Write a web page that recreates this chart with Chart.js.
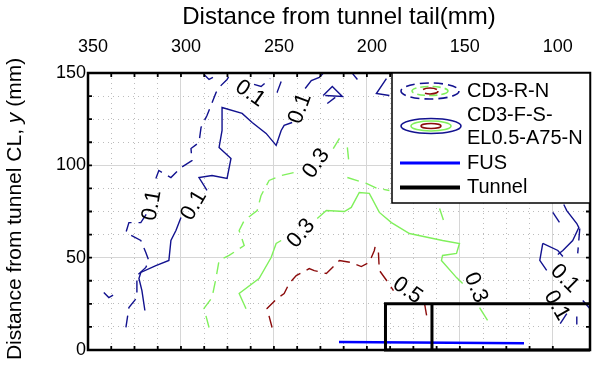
<!DOCTYPE html>
<html>
<head>
  <meta charset="utf-8">
  <title>Contours near tunnel tail</title>
  <style>
    html, body { margin: 0; padding: 0; background: #fff; }
    #wrap { width: 593px; height: 371px; }
  </style>
</head>
<body>
  <div id="wrap"><canvas id="chart" width="593" height="371"></canvas></div>

  <script src="https://cdn.jsdelivr.net/npm/chart.js"></script>
  <script>
    // axis ranges and labelled ticks (mm)
    const xMin = 80, xMax = 350;
    const yMin = 0, yMax = 150;
    const xTickValues = [350, 300, 250, 200, 150, 100];
    const yTickValues = [0, 50, 100, 150];

    // CD3-R-N contour pieces (dashed), [x, y] in mm
    const rnLevel01 = [
      [[329.6,12.2],[328.0,23.0],[323.7,28.4],[323.7,40.3],[318.9,44.7],[317.3,48.5],[318.9,52.8],[321.6,59.3],[329.6,63.6],[328.0,69.0],[321.6,69.0],[317.3,75.5]],
      [[313.5,92.9],[311.9,97.2],[305.4,93.4],[300.0,98.8],[294.1,102.6],[294.6,109.1],[290.3,112.4],[289.2,120.5],[286.0,127.0],[281.1,139.5],[278.4,143.3],[275.2,146.5],[273.6,149.2]],
      [[341.5,31.1],[338.8,28.4],[335.0,30.6]],
      [[287.6,149.2],[284.9,146.5],[282.8,147.6]],
      [[260.7,143.8],[256.9,142.7],[252.0,147.0]],
      [[246.1,145.4],[248.3,139.5],[250.4,137.8]],
      [[207.8,149.8],[205.1,146.5]],
      [[100.0,74.5],[94.6,66.3]],
      [[85.5,65.8],[86.6,52.3]],
      [[83.9,26.8],[80.1,22.5]],
      [[92.5,19.7],[96.3,13.8]],
      [[87.1,18.1],[87.1,13.8]]
    ];
    const rnLevel03 = [
      [[284.9,12.2],[287.6,22.5],[283.3,28.4],[281.1,39.2],[279.5,48.5],[274.1,51.2],[266.0,56.6],[268.7,64.7],[266.0,70.1],[259.0,75.5],[256.9,83.7],[252.6,91.8],[246.1,94.5],[239.1,96.1]],
      [[218.1,109.1],[213.8,116.2]],
      [[210.5,109.7],[209.5,99.9]],
      [[210.5,93.4],[200.3,90.2],[194.4,87.5],[187.9,86.4]],
      [[160.9,76.6],[158.2,68.5]]
    ];
    const rnLevel05 = [
      [[251.0,12.2],[253.7,22.5],[248.3,27.9],[244.5,30.6],[241.8,36.0],[238.0,40.3],[231.0,44.1],[228.3,43.0],[221.8,41.4],[214.8,48.5],[208.4,47.4],[203.0,45.2],[198.7,47.4],[196.0,53.9],[194.9,59.3]],
      [[193.8,52.8],[193.3,43.1],[189.0,37.1],[185.7,32.2]],
      [[169.0,25.2],[167.4,16.0]]
    ];

    // CD3-F-S-EL0.5-A75-N contour pieces (solid)
    const fsLevel01 = [
      [[319.4,21.4],[321.0,32.2],[322.6,38.7],[321.6,42.0],[313.5,45.7],[306.5,48.5],[305.4,59.3],[302.7,64.7],[300.0,71.8]],
      [[286.0,86.4],[290.3,93.4],[283.3,94.5],[275.2,92.9],[273.1,103.7],[279.5,109.7],[277.9,118.9],[277.9,131.3],[267.1,128.1],[261.7,123.2],[254.2,117.3],[248.8,110.8],[246.1,118.9],[244.5,121.6],[240.2,123.2]],
      [[233.2,141.6],[229.9,145.9],[225.6,147.6],[223.5,149.8]],
      [[223.5,137.8],[218.6,142.7],[213.2,137.3],[222.4,137.8]],
      [[221.3,133.5],[217.0,136.8]],
      [[189.5,147.0],[194.9,138.9],[187.9,137.8]],
      [[94.1,78.8],[92.5,75.5],[87.1,68.5],[86.0,66.3],[89.3,59.3],[94.6,53.9],[97.3,51.7]],
      [[105.4,57.7],[107.0,48.5],[103.3,43.1]],
      [[105.4,57.7],[97.3,53.9],[94.6,50.6]]
    ];
    const fsLevel03 = [
      [[265.0,22.3],[268.7,30.6],[258.0,38.7],[251.5,50.1],[248.8,57.7],[246.1,59.3]],
      [[226.7,71.2],[221.8,75.5],[212.1,75.0],[208.4,77.2],[204.1,85.3],[198.7,84.8],[193.3,74.5],[186.8,69.0],[177.1,63.1],[159.3,59.3],[150.2,57.7],[151.8,52.3],[159.3,51.2],[159.9,48.5],[151.8,39.2],[148.5,36.0]],
      [[139.4,23.0],[135.1,16.0]]
    ];

    // contour level labels
    const levelText  = ['0.1', '0.1', '0.1', '0.1', '0.3', '0.3', '0.5', '0.3', '0.1', '0.1'];
    const levelX     = [262.8, 235.9, 293.0, 315.6, 227.2, 235.3, 178.2, 141.5, 93.6, 97.9];
    const levelY     = [138.9, 130.8, 78.3, 78.3, 101.0, 63.1, 32.2, 33.8, 38.7, 24.1];
    const levelAngle = [35, -70, -60, -80, -55, -50, 35, 68, 45, 60];

    // FUS and tunnel outline
    const fusX = [215, 115.5];
    const fusY = [4.3, 3.7];
    const tunnelX = [80, 190, 190, 80];
    const tunnelY = [25, 25, 0, 0];
    const tunnelJointX = [165, 165];
    const tunnelJointY = [0, 25];

    const NAVY = '#12128f';
    const GREEN = '#80f05c';
    const RED = '#8b0b0b';
    const FONT = '"Liberation Sans", Arial, sans-serif';

    const toPts = pts => pts.map(p => ({ x: p[0], y: p[1] }));
    const zip = (xs, ys) => xs.map((v, i) => ({ x: v, y: ys[i] }));

    const piece = (pts, color, dash, label) => ({
      label: label,
      data: toPts(pts),
      showLine: true,
      borderColor: color,
      borderWidth: 1.4,
      borderDash: dash,
      pointRadius: 0,
      fill: false,
      order: 3
    });

    let datasets = [];
    rnLevel01.forEach(p => datasets.push(piece(p, NAVY, [12, 7], 'CD3-R-N')));
    rnLevel03.forEach(p => datasets.push(piece(p, GREEN, [12, 7], 'CD3-R-N')));
    rnLevel05.forEach(p => datasets.push(piece(p, RED, [12, 7], 'CD3-R-N')));
    fsLevel01.forEach(p => datasets.push(piece(p, NAVY, [], 'CD3-F-S-EL0.5-A75-N')));
    fsLevel03.forEach(p => datasets.push(piece(p, GREEN, [], 'CD3-F-S-EL0.5-A75-N')));

    datasets.push({
      label: 'FUS', data: zip(fusX, fusY), showLine: true,
      borderColor: '#0000ff', borderWidth: 2.5, pointRadius: 0, order: 2
    });
    datasets.push({
      label: 'Tunnel', data: zip(tunnelX, tunnelY), showLine: true,
      borderColor: '#000', borderWidth: 3, pointRadius: 0, order: 1, clip: false
    });
    datasets.push({
      label: 'Tunnel', data: zip(tunnelJointX, tunnelJointY), showLine: true,
      borderColor: '#000', borderWidth: 3, pointRadius: 0, order: 1, clip: false
    });

    // grid: solid every 50 mm, dotted in between
    const isMajor = c => c.tick && Math.abs(c.tick.value % 50) < 1e-6;
    const gridColor = c => isMajor(c) ? '#d6d6d6' : '#bcbcbc';
    const gridDash = c => isMajor(c) ? [] : [1, 4];

    // labels written on the contour lines
    const levelLabels = {
      id: 'levelLabels',
      afterDatasetsDraw(chart) {
        const { ctx, scales: { x, y } } = chart;
        ctx.save();
        ctx.font = '22px ' + FONT;
        ctx.fillStyle = '#000';
        ctx.textAlign = 'center';
        ctx.textBaseline = 'middle';
        levelText.forEach((t, i) => {
          ctx.save();
          ctx.translate(x.getPixelForValue(levelX[i]), y.getPixelForValue(levelY[i]));
          ctx.rotate(levelAngle[i] * Math.PI / 180);
          ctx.fillText(t, 0, 0);
          ctx.restore();
        });
        ctx.restore();
      }
    };

    // box around the plot with inward tick marks
    const frame = {
      id: 'frame',
      afterDraw(chart) {
        const { ctx, chartArea: a, scales: { x, y } } = chart;
        ctx.save();
        ctx.strokeStyle = '#000';
        ctx.lineWidth = 1.8;
        ctx.beginPath();
        x.ticks.forEach(t => {
          const px = x.getPixelForValue(t.value);
          ctx.moveTo(px, a.top); ctx.lineTo(px, a.top + 4);
          ctx.moveTo(px, a.bottom); ctx.lineTo(px, a.bottom - 4);
        });
        y.ticks.forEach(t => {
          const py = y.getPixelForValue(t.value);
          ctx.moveTo(a.left, py); ctx.lineTo(a.left + 4, py);
          ctx.moveTo(a.right, py); ctx.lineTo(a.right - 4, py);
        });
        ctx.stroke();
        ctx.lineWidth = 2.5;
        ctx.strokeRect(a.left, a.top, a.right - a.left, a.bottom - a.top);
        ctx.restore();
      }
    };

    // legend box in the upper right corner
    const legendBox = {
      id: 'legendBox',
      afterDraw(chart) {
        const { ctx, chartArea: a } = chart;
        const w = 198, h = 130;
        const L = a.right - w, T = a.top;
        ctx.save();
        ctx.fillStyle = '#fff';
        ctx.fillRect(L, T, w, h);
        ctx.strokeStyle = '#000';
        ctx.lineWidth = 1.5;
        ctx.strokeRect(L, T, w, h);

        const ell = (cx, cy, rx, ry, color, dash) => {
          ctx.beginPath();
          ctx.setLineDash(dash);
          ctx.strokeStyle = color;
          ctx.lineWidth = 1.6;
          ctx.ellipse(cx, cy, rx, ry, 0, 0, Math.PI * 2);
          ctx.stroke();
        };
        const sx = L + 38;
        ell(sx, T + 18, 29, 8, NAVY, [9, 5]);
        ell(sx, T + 18, 18, 4.5, GREEN, [8, 4]);
        ell(sx, T + 18, 8, 3, RED, [14, 6]);
        ell(sx + 1, T + 53, 30, 7.5, NAVY, []);
        ell(sx + 1, T + 53, 20, 5, GREEN, []);
        ell(sx + 1, T + 53, 10, 2.5, RED, []);
        ctx.setLineDash([]);

        ctx.beginPath();
        ctx.strokeStyle = '#0000ff';
        ctx.lineWidth = 3;
        ctx.moveTo(L + 8, T + 90); ctx.lineTo(L + 68, T + 90);
        ctx.stroke();
        ctx.beginPath();
        ctx.strokeStyle = '#000';
        ctx.lineWidth = 4;
        ctx.moveTo(L + 8, T + 114.5); ctx.lineTo(L + 68, T + 114.5);
        ctx.stroke();

        ctx.fillStyle = '#000';
        ctx.font = '20px ' + FONT;
        ctx.textAlign = 'left';
        ctx.textBaseline = 'middle';
        const tx = L + 75;
        ctx.fillText('CD3-R-N', tx, T + 18);
        ctx.fillText('CD3-F-S-', tx, T + 42);
        ctx.fillText('EL0.5-A75-N', tx, T + 65);
        ctx.fillText('FUS', tx, T + 90);
        ctx.fillText('Tunnel', tx, T + 114.5);
        ctx.restore();
      }
    };

    // vertical axis title, with the italic y
    const yTitle = {
      id: 'yTitle',
      afterDraw(chart) {
        const ctx = chart.ctx;
        const parts = [['Distance from tunnel CL, ', ''], ['y', 'italic '], [' (mm)', '']];
        ctx.save();
        ctx.translate(15, 209);
        ctx.rotate(-Math.PI / 2);
        ctx.fillStyle = '#000';
        ctx.textBaseline = 'middle';
        ctx.textAlign = 'left';
        let total = 0;
        parts.forEach(p => { ctx.font = p[1] + '21px ' + FONT; total += ctx.measureText(p[0]).width; });
        let pos = -total / 2;
        parts.forEach(p => {
          ctx.font = p[1] + '21px ' + FONT;
          ctx.fillText(p[0], pos, 0);
          pos += ctx.measureText(p[0]).width;
        });
        ctx.restore();
      }
    };

    new Chart(document.getElementById('chart'), {
      type: 'scatter',
      data: { datasets: datasets },
      options: {
        responsive: false,
        animation: false,
        layout: { padding: { left: 0, right: 3, top: 0, bottom: 21 } },
        plugins: {
          legend: { display: false },
          tooltip: { enabled: false }
        },
        scales: {
          x: {
            position: 'top',
            reverse: true,
            min: xMin,
            max: xMax,
            afterFit: s => { s.height = 73; s.paddingLeft = 0; s.paddingRight = 0; },
            ticks: {
              stepSize: 12.5,
              autoSkip: false,
              maxRotation: 0,
              padding: 15,
              labelOffset: 5,
              color: '#000',
              font: { family: FONT, size: 18 },
              callback: v => xTickValues.includes(v) ? String(v) : ''
            },
            grid: { color: gridColor, lineWidth: 1, drawTicks: false },
            border: { display: false, dash: gridDash },
            title: {
              display: true,
              text: 'Distance from tunnel tail(mm)',
              color: '#000',
              font: { family: FONT, size: 24 },
              padding: { top: 3 }
            }
          },
          y: {
            min: yMin,
            max: yMax,
            afterFit: s => { s.width = 88; s.paddingTop = 0; s.paddingBottom = 0; },
            ticks: {
              stepSize: 12.5,
              autoSkip: false,
              padding: 2,
              color: '#000',
              font: { family: FONT, size: 18 },
              callback: v => yTickValues.includes(v) ? String(v) : ''
            },
            grid: { color: gridColor, lineWidth: 1, drawTicks: false },
            border: { display: false, dash: gridDash }
          }
        }
      },
      plugins: [levelLabels, frame, legendBox, yTitle]
    });
  </script>
</body>
</html>
